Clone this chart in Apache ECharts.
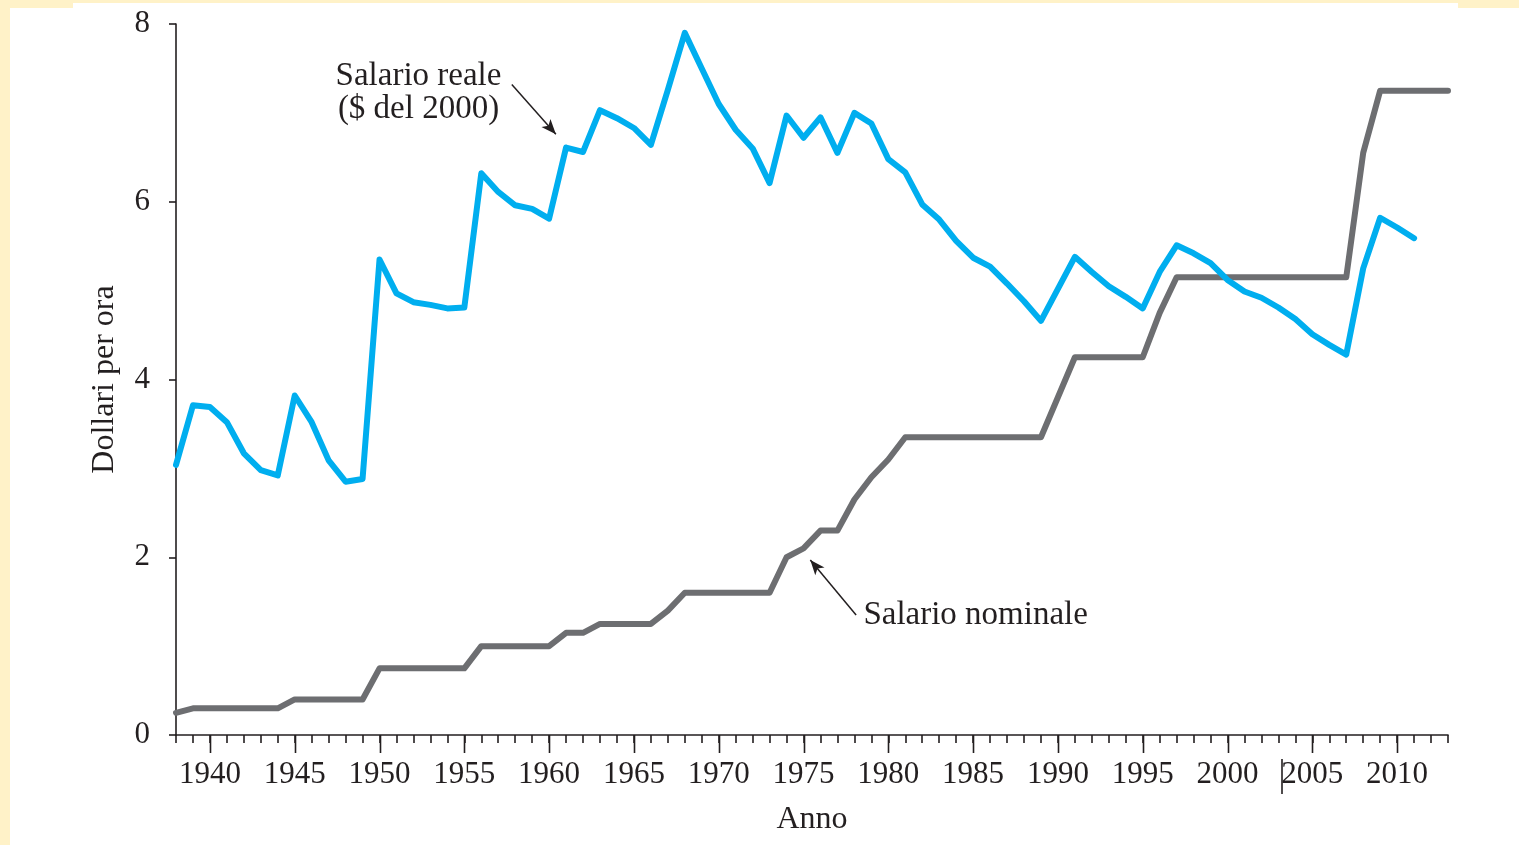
<!DOCTYPE html>
<html>
<head>
<meta charset="utf-8">
<script src="https://cdn.jsdelivr.net/npm/echarts@6/dist/echarts.min.js"></script>
<style>
	html, body { margin: 0; padding: 0; background: #fff2c8; overflow: hidden; }
	.sheet { position: absolute; background: #fff; }
	#chart { position: absolute; left: 0; top: 0; width: 1519px; height: 845px; }
</style>
</head>
<body>
<div class="sheet" style="left:10px; top:8px; width:1509px; height:837px;"></div>
<div class="sheet" style="left:73px; top:3px; width:1385px; height:10px;"></div>
<div id="chart"></div>
<script>
	// anni e valori
	const yearsReal = [1938, 1939, 1940, 1941, 1942, 1943, 1944, 1945, 1946, 1947, 1948, 1949,
		1950, 1951, 1952, 1953, 1954, 1955, 1956, 1957, 1958, 1959, 1960, 1961, 1962, 1963,
		1964, 1965, 1966, 1967, 1968, 1969, 1970, 1971, 1972, 1973, 1974, 1975, 1976, 1977,
		1978, 1979, 1980, 1981, 1982, 1983, 1984, 1985, 1986, 1987, 1988, 1989, 1990, 1991,
		1992, 1993, 1994, 1995, 1996, 1997, 1998, 1999, 2000, 2001, 2002, 2003, 2004, 2005,
		2006, 2007, 2008, 2009, 2010, 2011];
	const salarioReale = [3.04, 3.71, 3.69, 3.52, 3.17, 2.98, 2.92, 3.82, 3.52, 3.09, 2.85, 2.88,
		5.35, 4.97, 4.87, 4.84, 4.80, 4.81, 6.32, 6.11, 5.96, 5.92, 5.81, 6.61, 6.56, 7.03,
		6.94, 6.83, 6.64, 7.26, 7.90, 7.50, 7.10, 6.81, 6.60, 6.21, 6.97, 6.72, 6.95, 6.55,
		7.00, 6.88, 6.48, 6.33, 5.97, 5.80, 5.56, 5.37, 5.27, 5.08, 4.88, 4.66, 5.02, 5.38,
		5.21, 5.05, 4.93, 4.80, 5.21, 5.51, 5.42, 5.31, 5.12, 4.99, 4.92, 4.81, 4.68, 4.51,
		4.39, 4.28, 5.25, 5.82, 5.71, 5.59];

	const yearsNominal = [1938, 1939, 1940, 1941, 1942, 1943, 1944, 1945, 1946, 1947, 1948, 1949,
		1950, 1951, 1952, 1953, 1954, 1955, 1956, 1957, 1958, 1959, 1960, 1961, 1962, 1963,
		1964, 1965, 1966, 1967, 1968, 1969, 1970, 1971, 1972, 1973, 1974, 1975, 1976, 1977,
		1978, 1979, 1980, 1981, 1982, 1983, 1984, 1985, 1986, 1987, 1988, 1989, 1990, 1991,
		1992, 1993, 1994, 1995, 1996, 1997, 1998, 1999, 2000, 2001, 2002, 2003, 2004, 2005,
		2006, 2007, 2008, 2009, 2010, 2011, 2012, 2013];
	const salarioNominale = [0.25, 0.30, 0.30, 0.30, 0.30, 0.30, 0.30, 0.40, 0.40, 0.40, 0.40, 0.40,
		0.75, 0.75, 0.75, 0.75, 0.75, 0.75, 1.00, 1.00, 1.00, 1.00, 1.00, 1.15, 1.15, 1.25,
		1.25, 1.25, 1.25, 1.40, 1.60, 1.60, 1.60, 1.60, 1.60, 1.60, 2.00, 2.10, 2.30, 2.30,
		2.65, 2.90, 3.10, 3.35, 3.35, 3.35, 3.35, 3.35, 3.35, 3.35, 3.35, 3.35, 3.80, 4.25,
		4.25, 4.25, 4.25, 4.25, 4.75, 5.15, 5.15, 5.15, 5.15, 5.15, 5.15, 5.15, 5.15, 5.15,
		5.15, 5.15, 6.55, 7.25, 7.25, 7.25, 7.25, 7.25];

	const yTicks = [0, 2, 4, 6, 8];
	const xLabelYears = [1940, 1945, 1950, 1955, 1960, 1965, 1970, 1975, 1980, 1985, 1990, 1995, 2000, 2005, 2010];

	const FONT = "'Liberation Serif', 'Times New Roman', serif";
	const INK = '#231f20';

	let chart = echarts.init(document.getElementById('chart'), null, { renderer: 'canvas' });

	let option = {
		animation: false,
		backgroundColor: 'transparent',
		textStyle: { fontFamily: FONT, color: INK },
		grid: { left: 176, right: 71, top: 24, bottom: 110, containLabel: false },
		xAxis: {
			type: 'value', min: 1938, max: 2013, interval: 1,
			name: 'Anno', nameLocation: 'middle', nameGap: 69,
			nameTextStyle: { fontFamily: FONT, fontSize: 32, color: INK },
			axisLine: { show: true, lineStyle: { color: INK, width: 1.6 } },
			axisTick: { show: true, length: 8, lineStyle: { color: INK, width: 1.6 } },
			axisLabel: {
				margin: 24, fontFamily: FONT, fontSize: 31, color: INK, hideOverlap: false,
				formatter: v => xLabelYears.includes(v) ? String(v) : ''
			},
			splitLine: { show: false }
		},
		yAxis: {
			type: 'value', min: 0, max: 8, interval: 2,
			name: 'Dollari per ora', nameLocation: 'middle', nameGap: 55, nameRotate: 90,
			nameTextStyle: { fontFamily: FONT, fontSize: 32, color: INK },
			axisLine: { show: true, lineStyle: { color: INK, width: 1.6 } },
			axisTick: { show: true, length: 7, lineStyle: { color: INK, width: 1.6 } },
			axisLabel: { margin: 26, fontFamily: FONT, fontSize: 31, color: INK, formatter: v => yTicks.includes(v) ? String(v) : '' },
			splitLine: { show: false }
		},
		series: [
			{
				name: 'Salario nominale',
				type: 'line',
				data: yearsNominal.map((y, i) => [y, salarioNominale[i]]),
				showSymbol: false,
				lineStyle: { color: '#6d6e71', width: 6, join: 'round', cap: 'round' },
				z: 3,
				markLine: {
					silent: true,
					symbol: ['none', 'arrow'],
					symbolSize: [9, 15],
					label: { show: false },
					lineStyle: { color: INK, width: 1.5, type: 'solid' },
					data: [[{ coord: [1978.1, 1.35] }, { coord: [1975.4, 1.97] }]]
				},
				markPoint: {
					silent: true,
					symbol: 'circle', symbolSize: 1,
					itemStyle: { color: 'transparent' },
					label: { show: true, position: 'right', distance: 0, fontFamily: FONT, fontSize: 33, color: INK, formatter: 'Salario nominale' },
					data: [{ coord: [1978.5, 1.35] }]
				}
			},
			{
				name: 'Salario reale',
				type: 'line',
				data: yearsReal.map((y, i) => [y, salarioReale[i]]),
				showSymbol: false,
				lineStyle: { color: '#00aeef', width: 6, join: 'round', cap: 'round' },
				z: 4,
				markLine: {
					silent: true,
					symbol: ['none', 'arrow'],
					symbolSize: [9, 15],
					label: { show: false },
					lineStyle: { color: INK, width: 1.5, type: 'solid' },
					data: [[{ coord: [1957.8, 7.32] }, { coord: [1960.4, 6.76] }]]
				},
				markPoint: {
					silent: true,
					symbol: 'circle', symbolSize: 1,
					itemStyle: { color: 'transparent' },
					label: { show: true, position: 'inside', fontFamily: FONT, fontSize: 33, lineHeight: 33, align: 'center', color: INK, formatter: 'Salario reale\n($ del 2000)' },
					data: [{ coord: [1952.3, 7.23] }]
				}
			}
		]
	};

	chart.setOption(option);

	// tacche lunghe ogni 5 anni, posizionate con la scala dell'asse x
	let y0 = chart.convertToPixel({ yAxisIndex: 0 }, 0);
	let majorTicks = xLabelYears.map(year => {
		let x = Math.round(chart.convertToPixel({ xAxisIndex: 0 }, year)) + 0.5;
		return { type: 'line', silent: true, shape: { x1: x, y1: y0, x2: x, y2: y0 + 18 }, style: { stroke: INK, lineWidth: 1.6 } };
	});
	// segno verticale vicino al 2005, presente nell'originale
	majorTicks.push({ type: 'line', silent: true, shape: { x1: 1282, y1: 759, x2: 1282, y2: 794 }, style: { stroke: INK, lineWidth: 1.6 } });
	chart.setOption({ graphic: majorTicks });
</script>
</body>
</html>
